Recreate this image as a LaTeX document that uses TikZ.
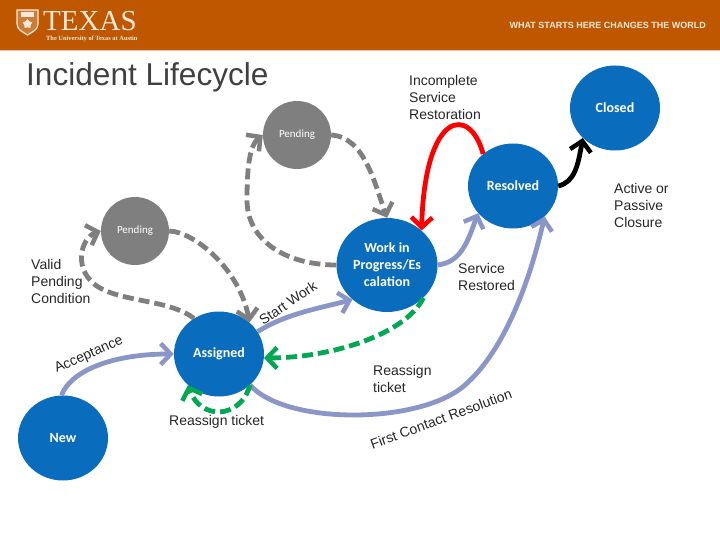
\documentclass[tikz,border=0pt]{standalone}
\usepackage{fontspec}
\setmainfont{Liberation Sans}
\newfontfamily\statefont{Carlito}
\newfontfamily\logofont{Liberation Serif}
\usetikzlibrary{arrows.meta, shapes.geometric}
\definecolor{utorange}{HTML}{BF5700}
\definecolor{cream}{HTML}{F7E9DA}
\definecolor{stateblue}{HTML}{0A6CBC}
\definecolor{pendgray}{HTML}{7F7F7F}
\definecolor{flowblue}{HTML}{8A96C8}
\definecolor{flowgreen}{HTML}{00A951}
\tikzset{
    state/.style = {ellipse, fill=stateblue, inner sep=0pt, minimum width=90pt, minimum height=85pt,
                    text=white, align=center, font=\fontsize{14}{17}\selectfont\statefont\bfseries},
    bigstate/.style = {state, minimum width=101pt, minimum height=94pt},
    pendstate/.style = {circle, fill=pendgray, inner sep=0pt, minimum size=68pt,
                        text=white, font=\fontsize{11}{13}\selectfont\statefont},
    lbl/.style = {inner sep=0pt, align=left, text=black!85, font=\fontsize{14}{17}\selectfont},
    flow/.style = {line width=4.8pt, color=flowblue, -{Straight Barb[length=10pt,width=21pt,line width=4.5pt]}},
    pendflow/.style = {flow, color=pendgray, dash pattern=on 11pt off 5pt},
    backflow/.style = {flow, color=flowgreen, dash pattern=on 11pt off 5pt},
    redflow/.style = {flow, color=red},
    blackflow/.style = {flow, color=black}
}
\begin{document}
\begin{tikzpicture}[x=1pt, y=-1pt]
  \useasboundingbox (0,0) rectangle (720,540);
  % banner
  \fill[utorange] (0,0) rectangle (720,50);
  \fill[utorange!35] (0,50) rectangle (720,51);
  \draw[cream, line width=1.2pt, fill=cream!25!utorange] (17,10) -- (38,10) -- (38,24)
    .. controls (38,30) and (32,32) .. (27.5,35) .. controls (23,32) and (17,30) .. (17,24) -- cycle;
  \fill[cream] (21,12.5) rectangle (34,17.5);
  \node[star, star points=5, fill=cream, inner sep=0pt, minimum size=10pt] (logostar) at (27.5,24) {};
  \node[text=cream, inner sep=0pt, anchor=west, font=\fontsize{29}{29}\selectfont\logofont] (logoname) at (43,21) {TEXAS};
  \node[text=cream, inner sep=0pt, anchor=west, font=\fontsize{6.4}{7}\selectfont\logofont\bfseries] (logosub) at (46,38.5) {The University of Texas at Austin};
  \node[text=cream, inner sep=0pt, anchor=east, font=\fontsize{9}{10}\selectfont\bfseries] (motto) at (706,25.5) {WHAT STARTS HERE CHANGES THE WORLD};

  \node[inner sep=0pt, anchor=west, text=black!75, font=\fontsize{31.6}{34}\selectfont] (title) at (26,77) {Incident Lifecycle};

  % states
  \node[state] (closed) at (615,108) {Closed};
  \node[state] (resolved) at (513,186) {Resolved};
  \node[pendstate] (pendtop) at (297,135) {Pending};
  \node[pendstate] (pendleft) at (135,231) {Pending};
  \node[bigstate] (work) at (387,265) {Work in\\Progress/Es\\calation};
  \node[state] (assigned) at (219,354) {Assigned};
  \node[state] (new) at (63,438) {New};

  % labels
  \node[lbl, anchor=north west] (incomplete) at (409,75) {Incomplete\\Service\\Restoration};
  \node[lbl, anchor=north west] (closure) at (614,183) {Active or\\Passive\\Closure};
  \node[lbl, anchor=north west] (valid) at (31,259) {Valid\\Pending\\Condition};
  \node[lbl, anchor=north west] (restored) at (458,263) {Service\\Restored};
  \node[lbl, anchor=north west] (again) at (373,365) {Reassign\\ticket};
  \node[lbl, anchor=north west] (ticket) at (169,415) {Reassign ticket};
  \node[lbl, rotate=24] (accept) at (89,355) {Acceptance};
  \node[lbl, rotate=34] (start) at (288,303) {Start Work};
  \node[lbl, rotate=20] (first) at (441,419) {First Contact Resolution};

  % transitions
  \draw[flow] (new.92) .. controls (70,372) and (110,354) .. (assigned.west);
  \draw[flow] (assigned.30) .. controls (285,314) and (320,308) .. (work.225);
  \draw[flow] (work.east) .. controls (462,262) and (468,240) .. (resolved.218);
  \draw[flow] (assigned.-45) .. controls (285,425) and (420,425) .. (465,385)
     .. controls (505,350) and (530,280) .. (resolved.-44);
  \draw[pendflow] (pendtop.east) .. controls (365,137) and (375,185) .. (work.north);
  \draw[pendflow] (work.west) .. controls (285,265) and (247,240) .. (247,200)
     .. controls (247,165) and (250,145) .. (pendtop.west);
  \draw[pendflow] (pendleft.east) .. controls (195,232) and (240,270) .. (assigned.46);
  \draw[pendflow] (assigned.125) .. controls (170,300) and (125,302) .. (100,288)
     .. controls (72,272) and (80,238) .. (pendleft.west);
  \draw[backflow] (work.-42) .. controls (405,335) and (330,358) .. (assigned.-5);
  \draw[backflow] (assigned.-45) .. controls (240,420) and (200,420) .. (assigned.-135);
  \draw[redflow] (resolved.133) .. controls (470,105) and (425,110) .. (work.45);
  \draw[blackflow] (resolved.east) .. controls (575,182) and (578,165) .. (closed.223);
\end{tikzpicture}
\end{document}
